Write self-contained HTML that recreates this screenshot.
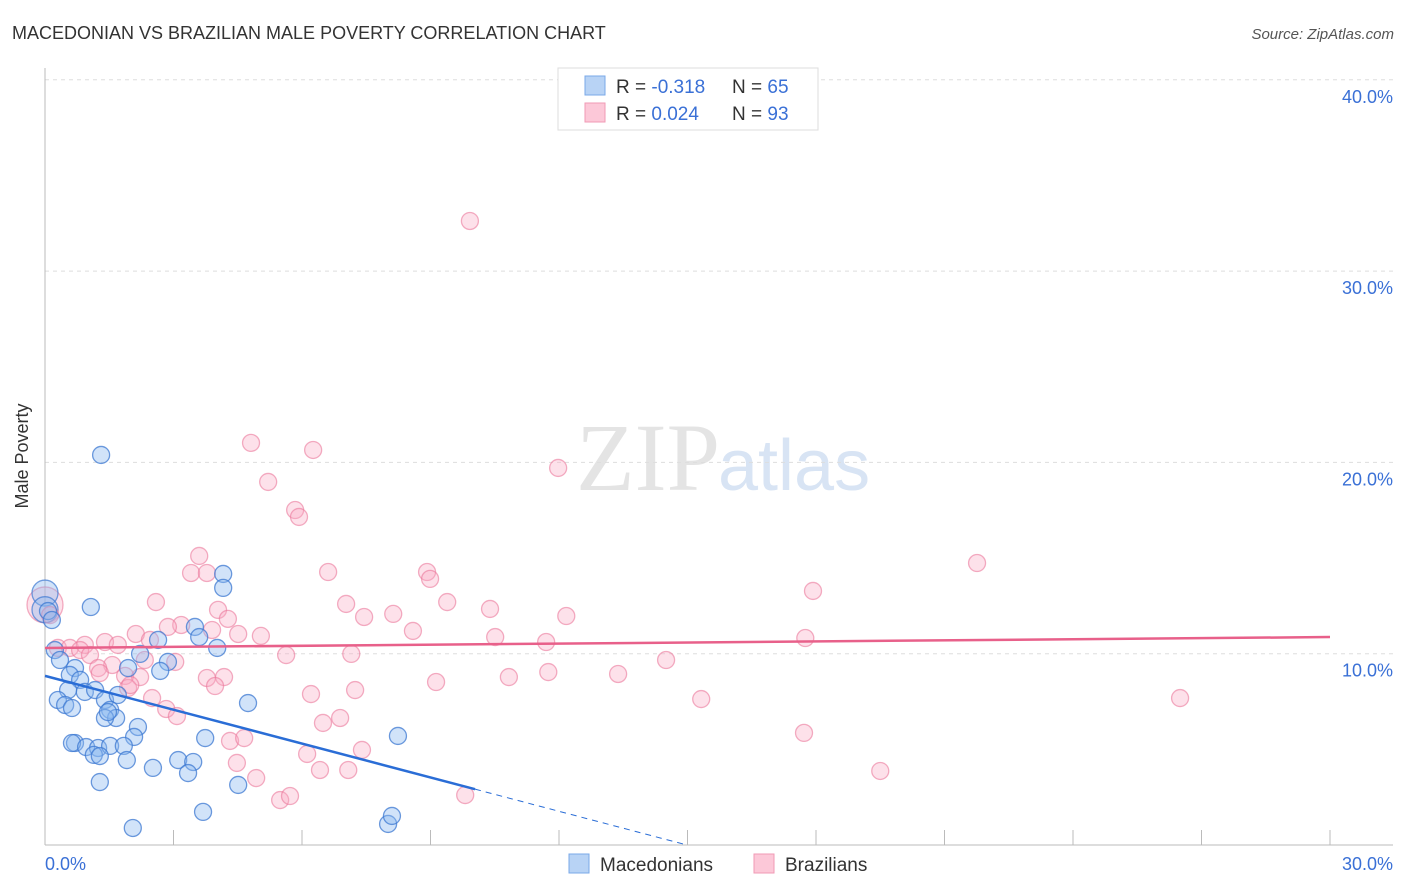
<!DOCTYPE html>
<html><head><meta charset="utf-8"><style>
body{margin:0;background:#fff;font-family:"Liberation Sans",sans-serif;}
svg{display:block}
</style></head><body>
<svg id="chart" width="1406" height="892" xmlns="http://www.w3.org/2000/svg">
<text x="12" y="39" font-size="18" fill="#333">MACEDONIAN VS BRAZILIAN MALE POVERTY CORRELATION CHART</text>
<text x="1394" y="39" font-size="15" fill="#555" font-style="italic" text-anchor="end">Source: ZipAtlas.com</text>
<text x="720" y="490" font-size="96" fill="#e4e4e4" text-anchor="end" font-family="Liberation Serif,serif">ZIP</text>
<text x="718" y="490" font-size="72" fill="#d8e4f4">atlas</text>
<g id="grid"></g>
<line x1="45" y1="68" x2="45" y2="845" stroke="#bbb"/>
<line x1="45" y1="845" x2="1393" y2="845" stroke="#bbb"/>
<g id="xticks"></g>
<text x="28" y="456" font-size="18" fill="#333" text-anchor="middle" transform="rotate(-90 28 456)">Male Poverty</text>
<text x="45" y="870" font-size="18" fill="#3a70d6">0.0%</text>
<text x="1393" y="870" font-size="18" fill="#3a70d6" text-anchor="end">30.0%</text>
<g id="pts"></g>
<g id="trends"></g>
<g>
<rect x="558" y="68" width="260" height="62" fill="#fff" stroke="#ddd"/>
<rect x="585" y="76" width="20" height="19" fill="#b8d3f5" stroke="#7aa8e8"/>
<rect x="585" y="103" width="20" height="19" fill="#fcc8d8" stroke="#f09ab5"/>
<text x="616" y="93" font-size="19" fill="#333">R = <tspan fill="#3a70d6">-0.318</tspan><tspan x="732">N = </tspan><tspan fill="#3a70d6">65</tspan></text>
<text x="616" y="120" font-size="19" fill="#333">R = <tspan fill="#3a70d6"> 0.024</tspan><tspan x="732">N = </tspan><tspan fill="#3a70d6">93</tspan></text>
</g>
<g>
<rect x="569" y="854" width="20" height="19" fill="#b8d3f5" stroke="#7aa8e8"/>
<text x="600" y="871" font-size="19" fill="#333">Macedonians</text></g>
<g>
<rect x="754" y="854" width="20" height="19" fill="#fcc8d8" stroke="#f09ab5"/>
<text x="785" y="871" font-size="19" fill="#333">Brazilians</text></g>
</svg>
<script>
const yTicks=[10,20,30,40];
const yTickLabels=["10.0%","20.0%","30.0%","40.0%"];
const xTicks=[3,6,9,12,15,18,21,24,27,30];
const blueX=[1.31,1.07,4.16,4.16,3.50,3.60,4.02,2.64,2.22,2.87,2.69,4.74,8.24,0.07,0.16,0.23,0.35,0.70,0.58,0.82,0.54,0.30,0.47,0.63,0.93,1.17,1.40,1.70,1.52,1.66,1.40,1.47,2.17,2.08,0.70,0.63,0.96,1.24,1.52,1.14,1.28,1.84,1.91,2.52,3.11,3.46,3.34,3.74,4.51,1.28,3.69,2.05,8.01,8.10,1.94];
const blueY=[20.39,12.44,14.17,13.44,11.40,10.87,10.30,10.72,9.99,9.57,9.10,7.42,5.70,12.23,11.76,10.19,9.67,9.25,8.89,8.63,8.10,7.58,7.32,7.16,8.00,8.10,7.58,7.84,7.06,6.64,6.64,6.95,6.17,5.65,5.33,5.33,5.12,5.07,5.18,4.71,4.65,5.18,4.44,4.03,4.44,4.34,3.76,5.59,3.14,3.29,1.73,0.89,1.10,1.52,9.25];
const pinkX=[9.92,4.81,6.26,11.98,5.21,5.84,5.93,3.60,3.41,3.78,6.61,8.92,8.99,21.76,17.93,2.59,9.39,7.03,4.04,10.39,12.17,8.13,7.45,4.27,3.18,3.90,2.87,2.12,4.51,5.04,8.59,10.51,11.70,17.75,0.12,0.30,0.58,0.93,0.82,1.05,1.40,1.70,2.45,2.33,3.04,1.57,1.24,1.28,1.87,2.22,5.63,7.15,14.50,3.78,4.18,1.94,1.99,3.97,2.50,6.21,7.24,9.13,10.83,11.75,13.38,15.32,26.50,2.83,3.08,6.89,6.49,4.32,4.65,17.72,6.12,7.40,4.48,6.42,7.08,4.93,19.50,5.49,5.72,9.81];
const pinkY=[32.62,21.02,20.65,19.71,18.98,17.51,17.15,15.11,14.22,14.22,14.27,14.27,13.91,14.74,13.28,12.70,12.70,12.60,12.29,12.34,11.97,12.08,11.92,11.82,11.50,11.24,11.40,11.03,11.03,10.93,11.19,10.87,10.61,10.82,12.02,10.30,10.30,10.46,10.19,9.93,10.61,10.46,10.72,9.67,9.57,9.41,9.25,8.99,8.84,8.78,9.93,9.99,9.67,8.73,8.78,8.21,8.36,8.31,7.68,7.89,8.10,8.52,8.78,9.04,8.94,7.63,7.68,7.11,6.74,6.64,6.38,5.44,5.59,5.86,4.76,4.97,4.29,3.92,3.92,3.50,3.87,2.35,2.56,2.61];
const bigBlue=[[0,13.17],[0,12.3]];
const bigPink=[[0,12.55]];
const blueTrend=[8.84,-0.5898];
const pinkTrend=[10.30,0.019];
const NS="http://www.w3.org/2000/svg";
const X=v=>45+v/30*1285, Y=v=>845-v*19.13;
function mk(tag,attrs,parent){const e=document.createElementNS(NS,tag);for(const k in attrs)e.setAttribute(k,attrs[k]);parent.appendChild(e);return e;}
const grid=document.getElementById('grid');
yTicks.forEach((t,i)=>{
 const l=mk('line',{x1:45,x2:1393,y1:Y(t),y2:Y(t),stroke:'#ddd','stroke-dasharray':'4,4'},grid);
 
 
 const tx=mk('text',{x:1393,y:Y(t)+23,'font-size':18,fill:'#3a70d6','text-anchor':'end'},grid);
 tx.textContent=yTickLabels[i];
 
 
});
const xt=document.getElementById('xticks');
xTicks.forEach(t=>{
 const l=mk('line',{x1:X(t),x2:X(t),y1:830,y2:845,stroke:'#bbb'},xt);
 
 
});
const pts=document.getElementById('pts');
function dot(x,y,r,fill,stroke,name){
 const c=mk('circle',{cx:X(x),cy:Y(y),r:r,fill:fill,stroke:stroke,'stroke-width':1.3},pts);
 
 
}
bigPink.forEach(p=>dot(p[0],p[1],18,'rgba(248,170,195,0.35)','rgba(235,120,155,0.6)','brazilian-point-large'));
bigBlue.forEach(p=>dot(p[0],p[1],13,'rgba(140,185,240,0.4)','rgba(60,120,210,0.7)','macedonian-point-large'));
pinkX.forEach((x,i)=>dot(x,pinkY[i],8.5,'rgba(248,170,195,0.35)','rgba(235,120,155,0.6)','brazilian-point'));
blueX.forEach((x,i)=>dot(x,blueY[i],8.5,'rgba(140,185,240,0.4)','rgba(60,120,210,0.75)','macedonian-point'));
const tr=document.getElementById('trends');
const bs=mk('line',{x1:X(0),y1:Y(blueTrend[0]),x2:X(10.04),y2:Y(blueTrend[0]+blueTrend[1]*10.04),stroke:'#2a6dd6','stroke-width':2.5},tr);


const xz=-blueTrend[0]/blueTrend[1];
const bd=mk('line',{x1:X(10.04),y1:Y(blueTrend[0]+blueTrend[1]*10.04),x2:X(xz),y2:Y(0),stroke:'#2a6dd6','stroke-width':1,'stroke-dasharray':'6,5'},tr);


const pl=mk('line',{x1:X(0),y1:Y(pinkTrend[0]),x2:X(30),y2:Y(pinkTrend[0]+pinkTrend[1]*30),stroke:'#e8608a','stroke-width':2.5},tr);


</script>
</body></html>
